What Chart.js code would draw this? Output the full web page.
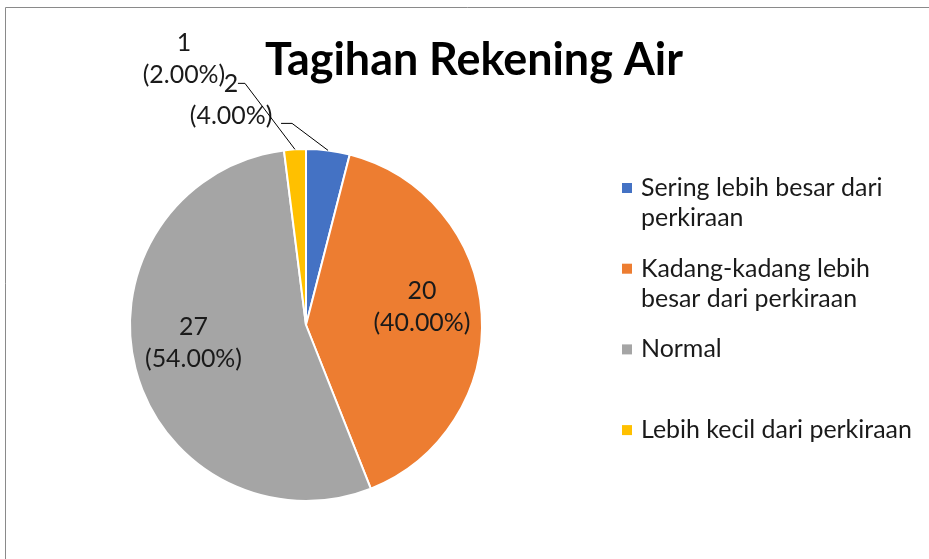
<!DOCTYPE html>
<html>
<head>
<meta charset="utf-8">
<script src="https://cdn.jsdelivr.net/npm/chart.js@4"></script>
<style>
  html, body { margin: 0; padding: 0; background: #fff; }
  canvas { display: block; }
</style>
</head>
<body>
<canvas id="tagihan" width="929" height="559"></canvas>
<script>
// data
const judul = 'Tagihan Rekening Air';
const kategori = [
  'Sering lebih besar dari perkiraan',
  'Kadang-kadang lebih besar dari perkiraan',
  'Normal',
  'Lebih kecil dari perkiraan'
];
const jumlah = [2, 20, 27, 1];
const warna = ['#4472C4', '#ED7D31', '#A5A5A5', '#FFC000'];

const FONT = 'Lato, "Open Sans", sans-serif';
const total = jumlah.reduce((a, b) => a + b, 0);

// ukuran font disesuaikan ke lebar teks di gambar asli
function pasFont(ctx, teks, lebar, tebal) {
  ctx.font = tebal + ' 20px ' + FONT;
  return 20 * lebar / ctx.measureText(teks).width;
}

// label luar: geser dari titik tepi irisan (siku garis, ujung garis, pusat teks)
const labelLuar = {
  0: { siku: [-36, -27], ujung: -11, teks: [-97, -50] },
  3: { siku: [-50, -66], ujung: -7, teks: [-111, -90] }
};

const hiasan = {
  id: 'hiasan',
  beforeDraw(chart) {
    const ctx = chart.ctx;
    ctx.save();
    ctx.strokeStyle = '#8a8a8a';
    ctx.lineWidth = 1;
    ctx.beginPath();
    ctx.moveTo(5.5, 559);
    ctx.lineTo(5.5, 7.5);
    ctx.lineTo(929, 7.5);
    ctx.stroke();
    ctx.restore();
  },
  afterDatasetsDraw(chart) {
    const ctx = chart.ctx;
    ctx.save();

    // judul
    const fj = pasFont(ctx, judul, 418, 'bold');
    ctx.font = 'bold ' + fj + 'px ' + FONT;
    ctx.fillStyle = '#000';
    ctx.textAlign = 'center';
    ctx.textBaseline = 'middle';
    ctx.fillText(judul, 474, 61);

    // label data
    const fl = pasFont(ctx, '(40.00%)', 97, 'normal');
    ctx.font = fl + 'px ' + FONT;
    ctx.fillStyle = '#1a1a1a';
    const meta = chart.getDatasetMeta(0);
    meta.data.forEach((arc, i) => {
      const p = arc.getProps(['x', 'y', 'startAngle', 'endAngle', 'outerRadius'], true);
      const mid = (p.startAngle + p.endAngle) / 2;
      const baris = [String(jumlah[i]), '(' + (jumlah[i] / total * 100).toFixed(2) + '%)'];
      let cx, cy;
      if (labelLuar[i]) {
        const o = labelLuar[i];
        const tx = p.x + Math.cos(mid) * p.outerRadius;
        const ty = p.y + Math.sin(mid) * p.outerRadius;
        const sx = tx + o.siku[0], sy = ty + o.siku[1];
        ctx.strokeStyle = '#000';
        ctx.lineWidth = 1;
        ctx.beginPath();
        ctx.moveTo(tx, ty);
        ctx.lineTo(sx, sy);
        ctx.lineTo(sx + o.ujung, sy);
        ctx.stroke();
        cx = tx + o.teks[0];
        cy = ty + o.teks[1];
      } else {
        cx = p.x + Math.cos(mid) * p.outerRadius * 0.66;
        cy = p.y + Math.sin(mid) * p.outerRadius * 0.66 - 11;
      }
      ctx.fillText(baris[0], cx, cy - 16);
      ctx.fillText(baris[1], cx, cy + 16);
    });

    // legenda
    const fg = pasFont(ctx, kategori[3], 271, 'normal');
    ctx.font = fg + 'px ' + FONT;
    ctx.textAlign = 'left';
    kategori.forEach((k, i) => {
      const y0 = 188 + i * 80.7;
      ctx.fillStyle = warna[i];
      ctx.fillRect(622, y0 - 5, 10, 10);
      // bungkus kata
      const kata = k.split(' ');
      const baris = [];
      let cur = '';
      kata.forEach(w => {
        const coba = cur ? cur + ' ' + w : w;
        if (ctx.measureText(coba).width > 276 && cur) { baris.push(cur); cur = w; }
        else cur = coba;
      });
      baris.push(cur);
      ctx.fillStyle = '#1a1a1a';
      baris.forEach((b, j) => ctx.fillText(b, 641, y0 + j * 30));
    });

    ctx.restore();
  }
};

new Chart(document.getElementById('tagihan'), {
  type: 'pie',
  data: {
    labels: kategori,
    datasets: [{
      data: jumlah,
      backgroundColor: warna,
      borderColor: '#fff',
      borderWidth: 2
    }]
  },
  options: {
    responsive: false,
    animation: false,
    layout: { padding: { left: 129, right: 446, top: 148, bottom: 57 } },
    plugins: {
      legend: { display: false },
      tooltip: { enabled: false },
      title: { display: false }
    }
  },
  plugins: [hiasan]
});
</script>
</body>
</html>
